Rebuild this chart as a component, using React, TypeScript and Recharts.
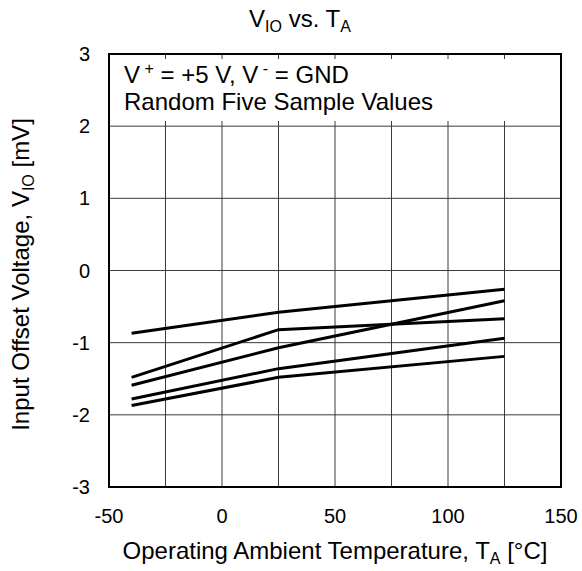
import React from "react";
import {
  LineChart,
  Line,
  XAxis,
  YAxis,
  CartesianGrid,
  ReferenceArea,
} from "recharts";

const temps = [-40, 25, 125];
const sampleA = [-0.87, -0.58, -0.26];
const sampleB = [-1.48, -0.82, -0.67];
const sampleC = [-1.59, -1.07, -0.42];
const sampleD = [-1.78, -1.36, -0.94];
const sampleE = [-1.87, -1.48, -1.19];
const xTicks = [-50, -25, 0, 25, 50, 75, 100, 125, 150];
const yTicks = [-3, -2, -1, 0, 1, 2, 3];

const series = [sampleA, sampleB, sampleC, sampleD, sampleE];
const data = temps.map((t, i) => {
  const row: Record<string, number> = { t };
  series.forEach((s, k) => {
    row["s" + k] = s[i];
  });
  return row;
});

const FONT = "'Liberation Sans', Arial, sans-serif";
const LABEL = 24;
const TICK = 20;
const SUB = 16;

const XLabel = (props: any) => {
  const vb = props.viewBox;
  const cx = vb.x + vb.width / 2;
  return (
    <text x={cx} y={vb.y + 72} textAnchor="middle" fontSize={LABEL} fill="#000" fontFamily={FONT}>
      Operating Ambient Temperature, T
      <tspan fontSize={SUB} dy={5}>A</tspan>
      <tspan dy={-5}> [°C]</tspan>
    </text>
  );
};

const YLabel = (props: any) => {
  const vb = props.viewBox;
  const cy = vb.y + vb.height / 2 + 4;
  const x = 29;
  return (
    <text
      x={x}
      y={cy}
      transform={`rotate(-90 ${x} ${cy})`}
      textAnchor="middle"
      fontSize={LABEL}
      fill="#000"
      fontFamily={FONT}
    >
      Input Offset Voltage, V
      <tspan fontSize={SUB} dy={5}>IO</tspan>
      <tspan dy={-5}> [mV]</tspan>
    </text>
  );
};

export default function App() {
  return (
    <div style={{ position: "absolute", left: 0, top: 0, width: 582, height: 571, background: "#fff" }}>
      <LineChart
        width={582}
        height={571}
        data={data}
        margin={{ top: 54, right: 21, bottom: 0, left: 0 }}
      >
        <CartesianGrid stroke="#3a3a3a" strokeWidth={1} />
        <ReferenceArea y1={2.07} y2={2.93} fill="#fff" fillOpacity={1} stroke="none" />
        <XAxis
          dataKey="t"
          type="number"
          domain={[-50, 150]}
          ticks={xTicks}
          interval={0}
          tickFormatter={(v: number) => (v % 50 === 0 ? String(v) : "")}
          height={84}
          tickSize={0}
          tickMargin={22}
          axisLine={false}
          tick={{ fontSize: TICK, fill: "#000", fontFamily: FONT }}
          label={<XLabel />}
        />
        <YAxis
          type="number"
          domain={[-3, 3]}
          ticks={yTicks}
          interval={0}
          width={109}
          tickSize={0}
          tickMargin={19}
          axisLine={false}
          tick={{ fontSize: TICK, fill: "#000", fontFamily: FONT }}
          label={<YLabel />}
        />
        <ReferenceArea x1={-50} x2={150} y1={-3} y2={3} fill="none" stroke="#000" strokeWidth={2} />
        {series.map((_, k) => (
          <Line
            key={k}
            dataKey={"s" + k}
            stroke="#000"
            strokeWidth={3}
            dot={false}
            isAnimationActive={false}
          />
        ))}
      </LineChart>
      <svg
        width={582}
        height={571}
        style={{ position: "absolute", left: 0, top: 0, pointerEvents: "none" }}
        fontFamily={FONT}
        fill="#000"
      >
        <text x={300} y={27} textAnchor="middle" fontSize={LABEL}>
          V<tspan fontSize={SUB} dy={5}>IO</tspan>
          <tspan dy={-5}> vs. T</tspan>
          <tspan fontSize={SUB} dy={5}>A</tspan>
        </text>
        <text x={124} y={83} fontSize={LABEL}>
          V<tspan fontSize={SUB} dy={-9}> +</tspan>
          <tspan dy={9}> = +5 V, V</tspan>
          <tspan fontSize={SUB} dy={-9}> -</tspan>
          <tspan dy={9}> = GND</tspan>
        </text>
        <text x={124} y={110} fontSize={LABEL}>
          Random Five Sample Values
        </text>
      </svg>
    </div>
  );
}
